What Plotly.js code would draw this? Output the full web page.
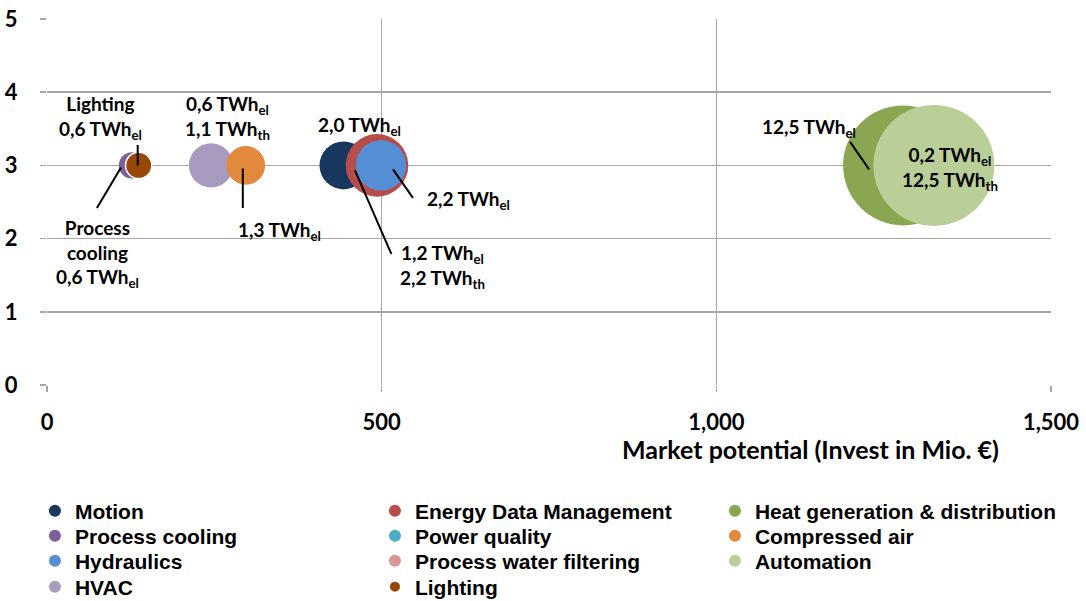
<!DOCTYPE html>
<html><head><meta charset="utf-8">
<script src="https://cdn.plot.ly/plotly-3.0.1.min.js"></script>
<style>html,body{margin:0;padding:0;background:#fff}#chart{width:1086px;height:601px}</style>
</head><body><div id="chart"></div>
<script>
// ---- data ----
const categories = ['Motion', 'Energy Data Management', 'Heat generation & distribution',
  'Process cooling', 'Power quality', 'Compressed air',
  'Hydraulics', 'Process water filtering', 'Automation',
  'HVAC', 'Lighting'];
const marketPotential = [443, 493, 1279, 127, 495, 297, 499, 497, 1325, 245, 137];
const yPosition = [3, 3, 3, 3, 3, 3, 3, 3, 3, 3, 3];
const energySavingsTWh = [2.0, 3.4, 12.5, 0.6, 1.0, 1.3, 2.2, 1.0, 12.7, 1.7, 0.6];
const bubbleLabels = ['2,0 TWh<sub>el</sub>', '1,2 TWh<sub>el</sub><br>2,2 TWh<sub>th</sub>', '12,5 TWh<sub>el</sub>',
  'Process<br>cooling<br>0,6 TWh<sub>el</sub>', '', '1,3 TWh<sub>el</sub>',
  '2,2 TWh<sub>el</sub>', '', '0,2 TWh<sub>el</sub><br>12,5 TWh<sub>th</sub>',
  '0,6 TWh<sub>el</sub><br>1,1 TWh<sub>th</sub>', 'Lighting<br>0,6 TWh<sub>el</sub>'];
const xTickValues = [0, 500, 1000, 1500];
const yTickValues = [0, 1, 2, 3, 4, 5];
const xAxisTitle = 'Market potential (Invest in Mio. €)';

// ---- style ----
const colors = ['#17375E', '#B54D4A', '#8AA650', '#7D5F9A', '#4BACC6', '#E2893D',
  '#558ED5', '#D99694', '#BACF97', '#A99BC0', '#974806'];
const lineWidths = [0, 0, 0, 0, 0, 0, 0, 0, 0, 0, 1.5];
const drawOrder = [3, 10, 9, 5, 0, 4, 7, 1, 6, 2, 8];
// label offsets in px relative to bubble centre [dx, dyUp]
const labelShift = [[16, 39], [66, -101], [-94, 37], [-35, -88], null, [34, -66],
  [87, -35], null, [16, -3], [17, 48], [-38, 48]];
// leader lines: [headDx, headDyUp, tailAx, tailAy]
const leaders = [null, [-22, -5, 37, 85], [-34, -4, -20, -29], [-11, -2, -25, 42], null, [-3, -3, 0, 41],
  [12, -4, 21, 30], null, null, null, [-1, 0, 0, -22]];
const legendRowsY = [-0.3443, -0.4126, -0.4809, -0.5519];
const legendIds = ['legend', 'legend2', 'legend3', 'legend4'];

const sizeref = 12.5 / 2 / (60 * 60);
const labelFont = {family: 'Lato', size: 19, color: '#000', weight: 700};

const traces = drawOrder.map(i => ({
  type: 'scatter', mode: 'markers',
  name: categories[i],
  x: [marketPotential[i]], y: [yPosition[i]],
  marker: {size: [energySavingsTWh[i]], sizemode: 'area', sizeref: sizeref,
    color: colors[i], opacity: 1, line: {color: '#FFFFFF', width: lineWidths[i]}},
  legend: legendIds[Math.floor(i / 3)],
  legendrank: (i % 3) + 1,
  hoverinfo: 'skip'
}));

const annotations = [];
categories.forEach((c, i) => {
  if (labelShift[i] && bubbleLabels[i]) {
    annotations.push({x: marketPotential[i], y: yPosition[i], xref: 'x', yref: 'y',
      text: bubbleLabels[i], showarrow: false, xshift: labelShift[i][0], yshift: labelShift[i][1],
      font: labelFont, align: 'center', xanchor: 'center', yanchor: 'middle'});
  }
  if (leaders[i]) {
    annotations.push({x: marketPotential[i], y: yPosition[i], xref: 'x', yref: 'y',
      text: '', showarrow: true, arrowhead: 0, arrowwidth: 2, arrowcolor: '#000',
      xshift: leaders[i][0], yshift: leaders[i][1], ax: leaders[i][2], ay: leaders[i][3], standoff: 0});
  }
});
annotations.push({xref: 'paper', yref: 'paper', x: 0.76, y: -0.175, text: xAxisTitle,
  showarrow: false, font: {family: 'Lato', size: 25, color: '#000', weight: 700}, xanchor: 'center', yanchor: 'middle'});

const legendBase = {orientation: 'h', xref: 'paper', yref: 'paper', x: -0.012, xanchor: 'left',
  yanchor: 'middle', entrywidth: 295, entrywidthmode: 'pixels', itemsizing: 'constant',
  font: {family: 'Liberation Sans', size: 21, color: '#000', weight: 700},
  bgcolor: 'rgba(0,0,0,0)', borderwidth: 0, traceorder: 'normal'};

const layout = {
  width: 1086, height: 601,
  margin: {l: 47, r: 35, t: 19, b: 216, autoexpand: false},
  paper_bgcolor: '#FFFFFF', plot_bgcolor: '#FFFFFF',
  showlegend: true,
  xaxis: {range: [0, 1500], tickvals: xTickValues, tickformat: ',', showgrid: true,
    gridcolor: '#A6A6A6', gridwidth: 1.5, zeroline: false, showline: false,
    ticks: 'outside', ticklen: 6, tickcolor: '#A6A6A6', tickwidth: 1.5, ticklabelstandoff: 12,
    tickfont: {family: 'Lato', size: 22, color: '#000', weight: 700}, fixedrange: true},
  yaxis: {range: [0, 5], tickvals: yTickValues, showgrid: true,
    gridcolor: '#A6A6A6', gridwidth: 1.5, zeroline: false, showline: false,
    ticks: 'outside', ticklen: 6, tickcolor: '#A6A6A6', tickwidth: 1.5, ticklabelstandoff: 18,
    tickfont: {family: 'Lato', size: 22, color: '#000', weight: 700}, fixedrange: true},
  annotations: annotations,
  hovermode: false
};
legendIds.forEach((id, r) => { layout[id] = Object.assign({}, legendBase, {y: legendRowsY[r]}); });

Plotly.newPlot('chart', traces, layout, {displayModeBar: false, staticPlot: true});
</script></body></html>
